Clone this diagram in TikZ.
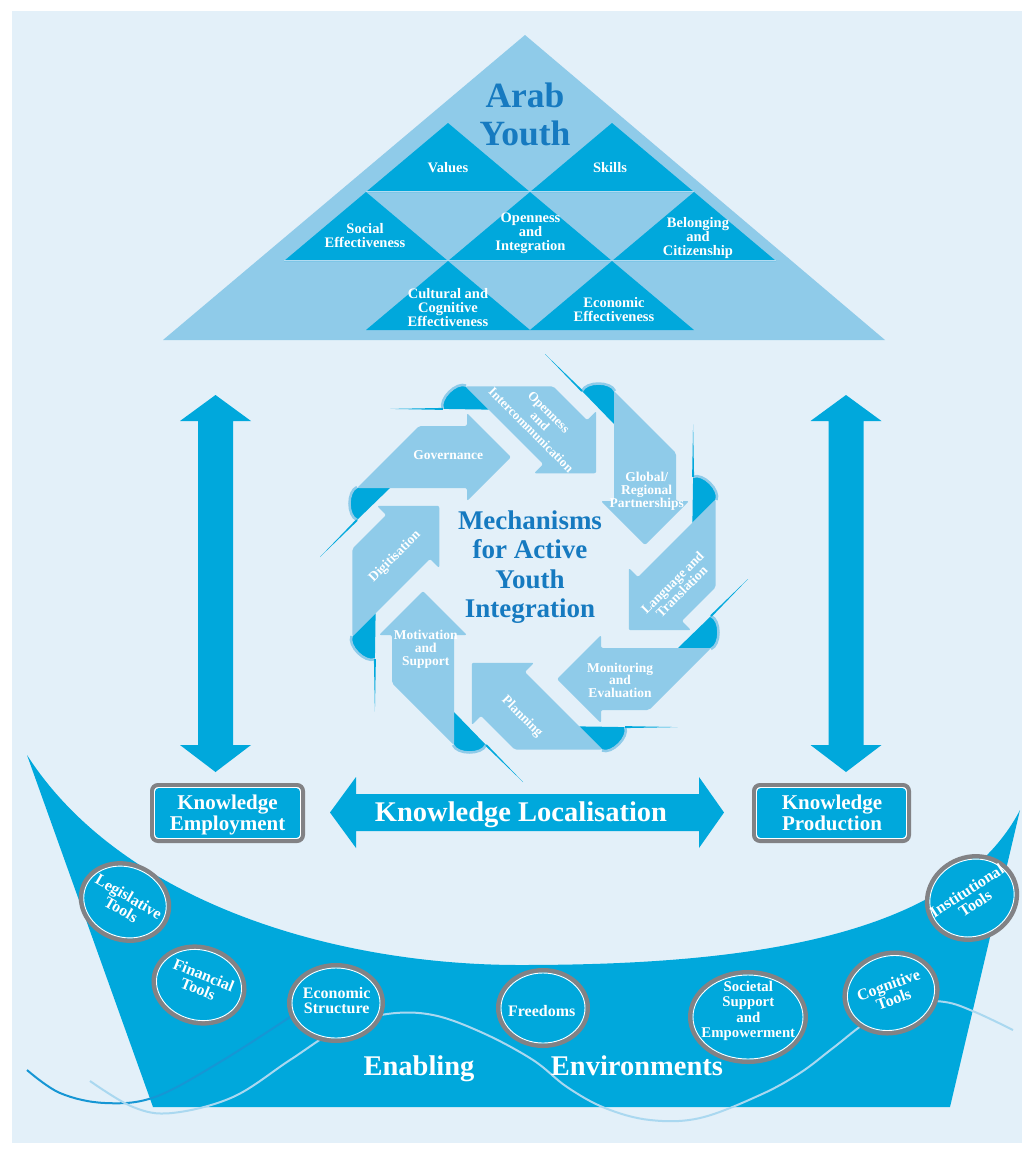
\documentclass[tikz,border=0pt]{standalone}
\usepackage{fontspec}
\setmainfont{Liberation Serif}
\definecolor{bgc}{RGB}{227,240,249}
\definecolor{midb}{RGB}{143,203,233}
\definecolor{rowl}{RGB}{178,220,242}
\definecolor{strb}{RGB}{0,168,220}
\definecolor{darkt}{RGB}{22,122,192}
\definecolor{greyb}{RGB}{130,130,133}
\definecolor{wavel}{RGB}{170,216,240}
\definecolor{waved}{RGB}{22,150,212}
\newcommand\ovalring[5]{%
  \draw[greyb, line width=4.5, fill=strb, rotate around={#5:(#1,#2)}] (#1,#2) ellipse [x radius=#3-2.25, y radius=#4-2.25];
  \draw[white, line width=0.9, rotate around={#5:(#1,#2)}] (#1,#2) ellipse [x radius=#3-5, y radius=#4-5];
}
\begin{document}
\begin{tikzpicture}[x=1pt,y=-1pt,
  tlab/.style={text=white, font=\bfseries\fontsize{14.5}{14}\selectfont, align=center, inner sep=0pt},
  alab/.style={text=white, font=\bfseries\fontsize{13.5}{12.8}\selectfont, align=center, inner sep=0pt},
  clab/.style={text=white, font=\bfseries\fontsize{16}{15.2}\selectfont, align=center, inner sep=0pt},
  blab/.style={text=white, font=\bfseries\fontsize{21}{20.7}\selectfont, align=center, inner sep=0pt},
  bigw/.style={text=white, font=\bfseries\fontsize{28.5}{30}\selectfont, inner sep=0pt, anchor=base},
  ttl/.style={text=darkt, font=\bfseries\fontsize{27}{29.4}\selectfont, align=center, inner sep=0pt},
  arab/.style={text=darkt, font=\bfseries\fontsize{35.5}{37}\selectfont, inner sep=0pt, anchor=base}]
\useasboundingbox (0,0) rectangle (1026,1149);
\fill[white] (0,0) rectangle (1026,1149);
\fill[bgc] (12,11) rectangle (1022,1143);

% ---------- pyramid ----------
\fill[midb] (525,35) -- (885,340) -- (163,340) -- cycle;
\foreach \x/\y in {448/123, 612/123, 366/192, 530/192, 694/192, 448/261, 612/261}
  \fill[strb] (\x,\y) -- ++(82,69) -- ++(-164,0) -- cycle;
\draw[rowl, line width=1] (366,191.5) -- (694,191.5);
\draw[rowl, line width=1] (284,260.5) -- (776,260.5);
\node[arab] (arab) at (525,107) {Arab};
\node[arab] (youth) at (525,145) {Youth};
\node[tlab] (values) at (448,168) {Values};
\node[tlab] (skills) at (610,168) {Skills};
\node[tlab] (social) at (365,236) {Social\\Effectiveness};
\node[tlab] (open) at (530.5,233) {Openness\\and\\Integration};
\node[tlab] (belong) at (698,238) {Belonging\\and\\Citizenship};
\node[tlab] (cult) at (448,308) {Cultural and\\Cognitive\\Effectiveness};
\node[tlab] (econ) at (614,309.5) {Economic\\Effectiveness};

% ---------- vertical double arrows ----------
\fill[strb] (215.5,395) -- (251,421) -- (233,421) -- (233,745) -- (251,745) -- (215.5,772)
  -- (180,745) -- (198,745) -- (198,421) -- (180,421) -- cycle;
\fill[strb] (846,395) -- (881.5,421) -- (863.5,421) -- (863.5,745) -- (881.5,745) -- (846,772)
  -- (810.5,745) -- (828.5,745) -- (828.5,421) -- (810.5,421) -- cycle;

% ---------- horizontal double arrow ----------
\fill[strb] (330,812.5) -- (356,777) -- (356,794) -- (699,794) -- (699,777) -- (724,812.5)
  -- (699,848) -- (699,831) -- (356,831) -- (356,848) -- cycle;
\node[bigw] (kl) at (521,821.5) {Knowledge Localisation};

% ---------- boxes ----------
\draw[greyb, line width=4, rounded corners=6] (152,785) rectangle (303,841);
\draw[white, line width=0.9, fill=strb, rounded corners=4] (154.5,787.5) rectangle (300.5,838.5);
\node[blab] (ke) at (227.5,815) {Knowledge\\Employment};
\draw[greyb, line width=4, rounded corners=6] (754,785) rectangle (909,841);
\draw[white, line width=0.9, fill=strb, rounded corners=4] (756.5,787.5) rectangle (906.5,838.5);
\node[blab] (kp) at (832,813) {Knowledge\\Production};

% ---------- octagon of arrows ----------
\begin{scope}[shift={(534,568)}]
\foreach \k in {0,...,7}{
  \begin{scope}[rotate=-45*\k]
    \fill[strb] (-177,-80) -- (-144,-80) -- (-177,-48) .. controls (-186,-52) and (-186,-76) .. (-177,-80) -- cycle;
    \draw[midb, line width=2.5] (-177,-48) .. controls (-187,-52) and (-187,-77) .. (-177,-81);
    \fill[strb] (-176.3,-47.3) -- (-214,-11) -- (-177.7,-48.7) -- cycle;
    \fill[midb, rounded corners=2] (-115,-142) -- (-67,-142) -- (-67,-155) -- (-23,-111)
      -- (-67,-67) -- (-67,-80) -- (-177,-80) -- cycle;
  \end{scope}
}
\end{scope}
\node[alab] (gov) at (448.3,455) {Governance};
\node[alab, rotate=-45, font=\bfseries\fontsize{13}{12.6}\selectfont] (openi) at (540,421) {Openness\\and\\Intercommunication};
\node[alab] (glob) at (646.7,491) {Global/\\Regional\\Partnerships};
\node[alab, rotate=45] (lang) at (677,587) {Language and\\Translation};
\node[alab] (moni) at (620,680.3) {Monitoring\\and\\Evaluation};
\node[alab, rotate=-45] (plan) at (522,717) {Planning};
\node[alab] (moti) at (425.7,649) {Motivation\\and\\Support};
\node[alab, rotate=45] (digi) at (395,557) {Digitisation};
\node[ttl] (mech) at (530,567) {Mechanisms\\for Active\\Youth\\Integration};

% ---------- enabling environments ----------
\fill[strb] (27,755) -- (153,1107) -- (950,1107) -- (1020,810)
  .. controls (950,945) and (720,965) .. (520,965)
  .. controls (330,965) and (120,900) .. (27,755) -- cycle;
\draw[waved, line width=2] plot[smooth, tension=0.6] coordinates
  {(27,1070) (60,1093) (105,1103) (155,1097) (220,1062) (290,1017)};
\draw[wavel, line width=2] plot[smooth, tension=0.6] coordinates
  {(90,1081) (133,1107) (172,1113) (233,1097) (290,1060) (340,1028) (387,1014) (433,1015)
   (483,1033) (533,1060) (567,1087) (605,1108) (650,1120) (700,1118) (760,1095) (800,1073)
   (833,1048) (870,1020) (910,1003) (945,1002) (975,1012) (1013,1030)};

\ovalring{125}{902}{47}{40}{-20}
\ovalring{199}{985}{48}{40}{-15}
\ovalring{336}{1003}{49}{40}{0}
\ovalring{543}{1008}{47}{40}{0}
\ovalring{748}{1017}{60}{47}{0}
\ovalring{891}{993}{49}{42}{15}
\ovalring{972}{898}{48}{43}{25}

\node[clab, rotate=-30] (legis) at (125,903) {Legislative\\Tools};
\node[clab, rotate=-22] (fin) at (201,982) {Financial\\Tools};
\node[clab] (ecos) at (336.7,1000.5) {Economic\\Structure};
\node[clab] (free) at (541.7,1010.6) {Freedoms};
\node[clab, font=\bfseries\fontsize{14.8}{15.2}\selectfont] (soc) at (748.3,1011) {Societal\\Support\\and\\Empowerment};
\node[clab, rotate=20] (cog) at (891,992) {Cognitive\\Tools};
\node[clab, rotate=33] (inst) at (971,897) {Institutional\\Tools};

\node[bigw] (enab) at (419,1075) {Enabling};
\node[bigw] (envi) at (637,1075) {Environments};
\end{tikzpicture}
\end{document}
